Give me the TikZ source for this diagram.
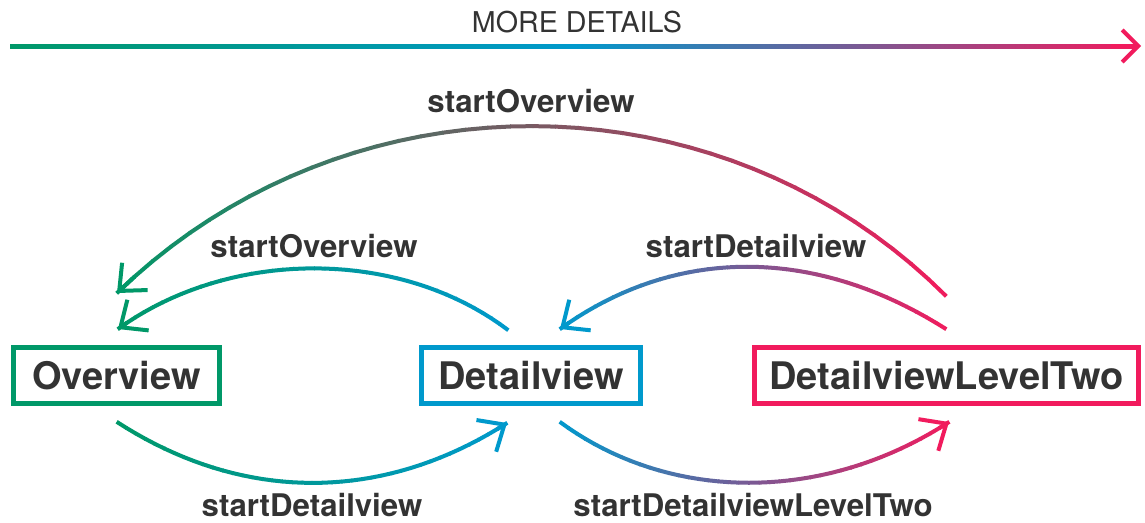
\documentclass[tikz,border=0pt]{standalone}
\usepackage{fontspec}
\setmainfont{TeX Gyre Heros}
\usetikzlibrary{arrows.meta,calc}
\definecolor{ovgreen}{RGB}{0,152,104}
\definecolor{dvblue}{RGB}{0,153,204}
\definecolor{dlpink}{RGB}{241,27,93}
\definecolor{txtgray}{RGB}{51,51,51}
\tikzset{d/.style={line width=3pt},
  tip/.style={-{Straight Barb[length=16pt,width=28pt,sharp]}}}
% curve with a colour run: start, control, control, end, start colour, end colour
\newcommand{\gradcurve}[6]{%
  \foreach \k in {0,...,40}{
    \path (#1) .. controls (#2) and (#3) .. (#4) coordinate[pos=\k/40] (g\k);
  }
  \foreach \k [evaluate=\k as \n using int(\k+1), evaluate=\k as \m using 98.75-2.5*\k] in {0,...,39}{
    \draw[d, #5!\m!#6, shorten <=-0.3pt, shorten >=-0.3pt] (g\k) -- (g\n);
  }
  \draw[d, tip, #6] (g39) -- (g40);
}

\begin{document}
\begin{tikzpicture}[x=0.75pt,y=-0.75pt,
box/.style={draw, line width=3.5pt, minimum height=42pt, inner sep=0pt, text=txtgray, font=\fontsize{28.5}{30}\selectfont\bfseries},
lbl/.style={text=txtgray, inner sep=0pt, font=\fontsize{23.4}{25}\selectfont\bfseries},
]
\useasboundingbox (0,0) rectangle (1145,522);
% more details axis
\node[text=txtgray, inner sep=0pt, font=\fontsize{21.5}{23}\selectfont] (more) at (577,22.5) {MORE DETAILS};
\coordinate (axL) at (10,46);
\coordinate (axR) at (1141,46);
\shade[left color=ovgreen, right color=dlpink, middle color=dvblue] ($(axL)+(0,-2)$) rectangle ($(axR)+(-3,2)$);
\draw[d, dlpink, -{Straight Barb[length=12pt,width=24pt,sharp]}] ($(axR)+(-30,0)$) -- (axR);

% views
\node[box, draw=ovgreen, minimum width=154.5pt] (ov) at (116.5,375.5) {Overview};
\node[box, draw=dvblue, minimum width=164.3pt] (dv) at (531,375.5) {Detailview};
\node[box, draw=dlpink, minimum width=288pt] (dl) at (946.5,375.5) {DetailviewLevelTwo};

% curve ends
\coordinate (dlTop) at (946,296);
\coordinate (ovTop) at (117,293);
\coordinate (dvOut) at (508,330);
\coordinate (ovIn) at (118,329);
\coordinate (dlOut) at (946,329);
\coordinate (dvIn) at (560,329);
\coordinate (ovDown) at (117,422);
\coordinate (dvDownIn) at (507,423);
\coordinate (dvDown) at (560,422);
\coordinate (dlDownIn) at (949,422);

\gradcurve{dlTop}{720,70}{347,70}{ovTop}{dlpink}{ovgreen}
\gradcurve{dvOut}{400,248}{230,248}{ovIn}{dvblue}{ovgreen}
\gradcurve{dlOut}{815,246}{675,246}{dvIn}{dlpink}{dvblue}
\gradcurve{ovDown}{242,503}{382,503}{dvDownIn}{ovgreen}{dvblue}
\gradcurve{dvDown}{670,503}{824,503}{dlDownIn}{dvblue}{dlpink}

% labels
\node[lbl] (l1) at (531,101) {startOverview};
\node[lbl] (l2) at (314,246) {startOverview};
\node[lbl] (l3) at (756,246) {startDetailview};
\node[lbl] (l4) at (312,505) {startDetailview};
\node[lbl] (l5) at (753,505) {startDetailviewLevelTwo};
\end{tikzpicture}
\end{document}
